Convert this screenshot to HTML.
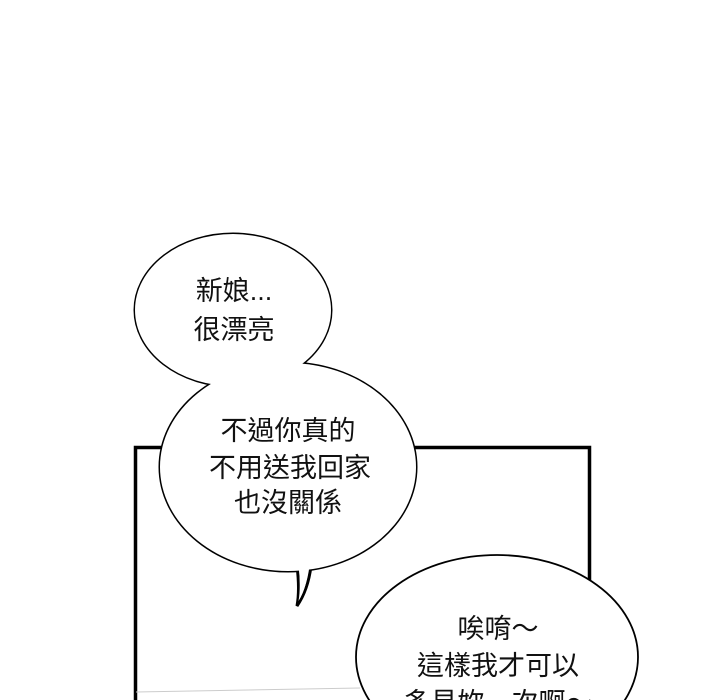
<!DOCTYPE html>
<html><head><meta charset="utf-8"><style>
html,body{margin:0;padding:0;background:#fff;overflow:hidden;}
svg{display:block;}
text{font-family:"Liberation Sans","Noto Sans CJK TC",sans-serif;font-size:27px;fill:#111;text-anchor:middle;}
</style></head><body>
<svg width="720" height="700" viewBox="0 0 720 700" xmlns="http://www.w3.org/2000/svg">
<rect width="720" height="700" fill="#fff"/>
<path d="M135.5 710 V447.5 H589.5 V710" fill="none" stroke="#000" stroke-width="3.5"/>
<line x1="136" y1="692" x2="360" y2="688" stroke="#ccc" stroke-width="1"/>
<g stroke="#000" stroke-width="3" fill="#fff">
<ellipse cx="233" cy="310" rx="98" ry="76"/>
<ellipse cx="288" cy="467" rx="128" ry="104"/>
<path d="M297 566 Q300 590 297 606 Q308 590 311 566 Z"/>
</g>
<g fill="#fff">
<ellipse cx="233" cy="310" rx="98" ry="76"/>
<ellipse cx="288" cy="467" rx="128" ry="104"/>
<path d="M298.5 562 Q301 588 298.5 601 Q307 588 309.5 562 Z"/>
</g>
<ellipse cx="497" cy="657" rx="141" ry="102" fill="#fff" stroke="#000" stroke-width="1.8"/>
<text x="234" y="300">新娘...</text>
<text x="234" y="339">很漂亮</text>
<text x="288" y="440">不過你真的</text>
<text x="290" y="477">不用送我回家</text>
<text x="288" y="512">也沒關係</text>
<text x="498" y="638">唉唷～</text>
<text x="498" y="675">這樣我才可以</text>
<text x="498" y="712">多見妳一次啊～</text>
</svg>
</body></html>
